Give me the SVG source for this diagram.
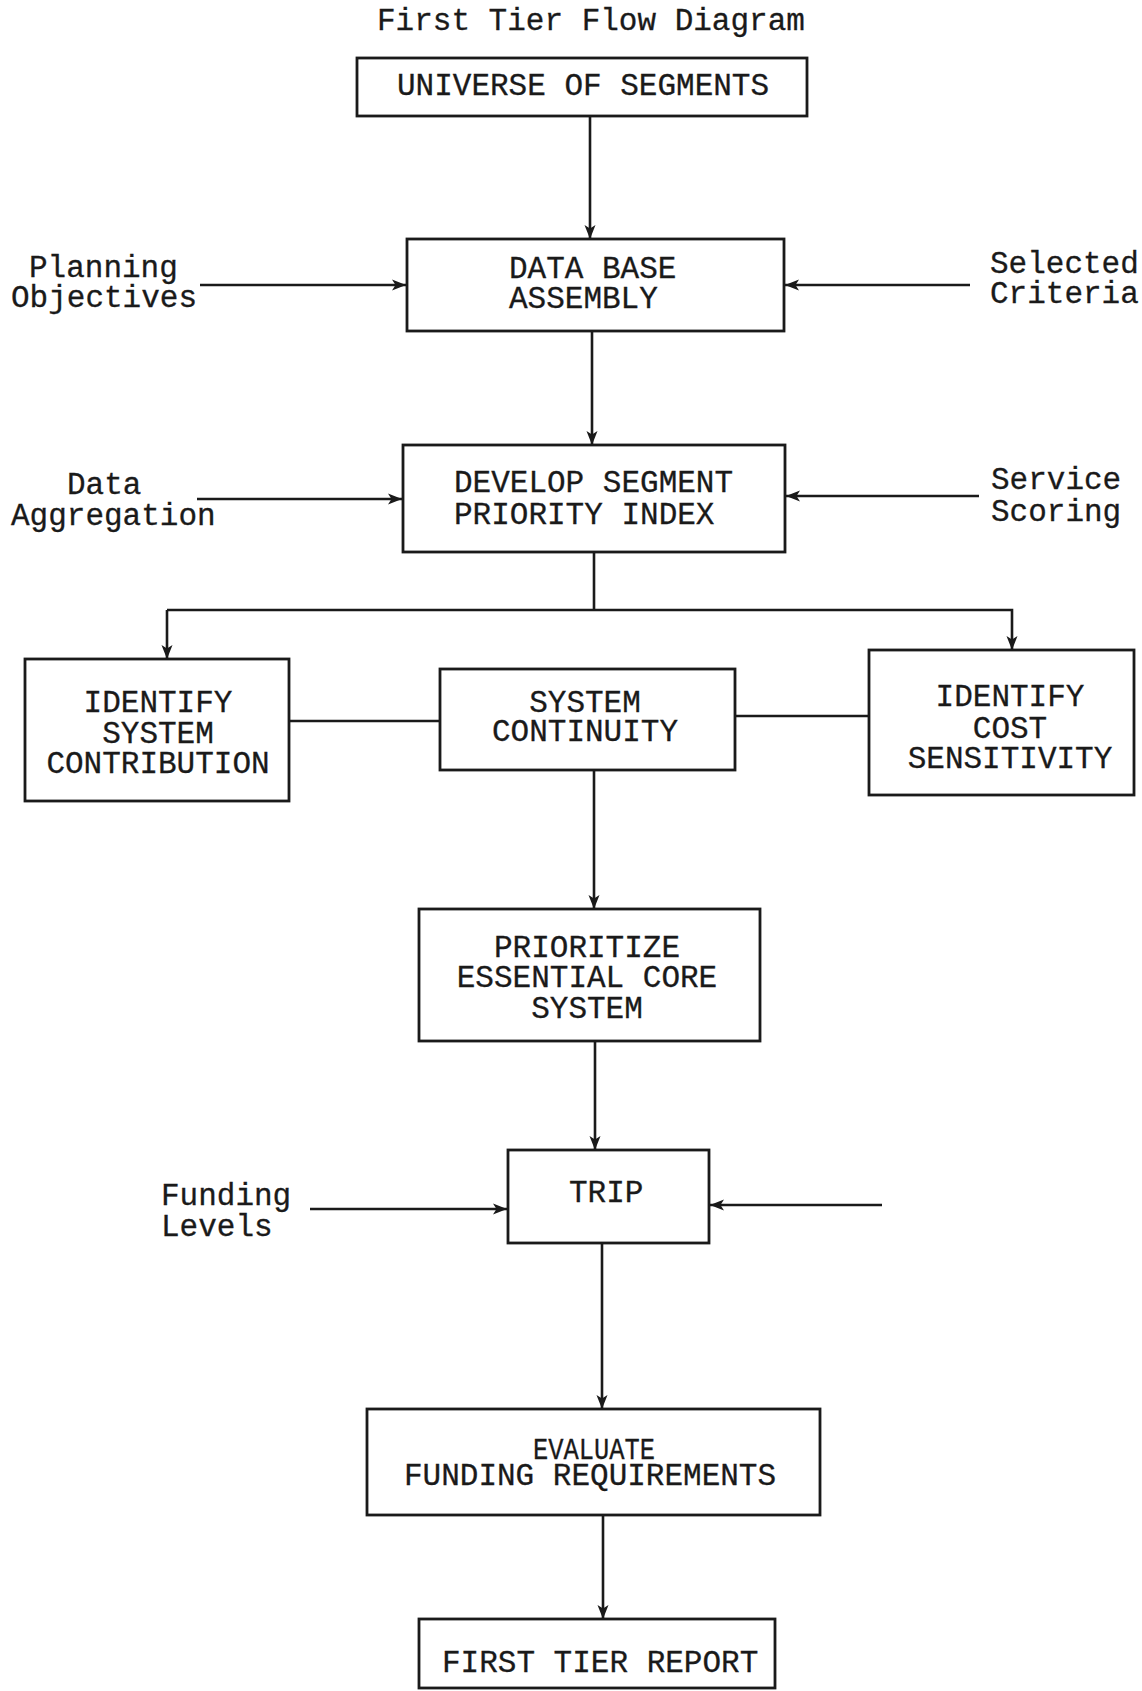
<svg xmlns="http://www.w3.org/2000/svg" width="1142" height="1691" viewBox="0 0 1142 1691">
<defs>
<style>
.box{fill:#fff;stroke:#1a1a1a;stroke-width:2.8}
.ln{fill:none;stroke:#1a1a1a;stroke-width:2.6}
.t{font-family:"Liberation Mono","DejaVu Sans Mono",monospace;font-size:31px;fill:#1a1a1a;stroke:#1a1a1a;stroke-width:0.3}
.c{text-anchor:middle}
</style>
<marker id="ah" viewBox="0 0 14 12" refX="14" refY="6" markerWidth="14" markerHeight="12" markerUnits="userSpaceOnUse" orient="auto">
<path d="M0,0.5 L14,6 L0,11.5 L3.5,6 Z" fill="#1a1a1a"/>
</marker>
</defs>
<rect width="1142" height="1691" fill="#fff"/>
<text class="t" x="377" y="30">First Tier Flow Diagram</text>
<g id="connectors">
<line class="ln" x1="590" y1="116" x2="590" y2="239" marker-end="url(#ah)"/>
<line class="ln" x1="200" y1="285" x2="406" y2="285" marker-end="url(#ah)"/>
<line class="ln" x1="970" y1="285" x2="785" y2="285" marker-end="url(#ah)"/>
<line class="ln" x1="592" y1="331" x2="592" y2="445" marker-end="url(#ah)"/>
<line class="ln" x1="197" y1="499" x2="402" y2="499" marker-end="url(#ah)"/>
<line class="ln" x1="979" y1="496" x2="786" y2="496" marker-end="url(#ah)"/>
<polyline class="ln" points="594,552 594,610"/>
<polyline class="ln" points="167,610 1012,610 1012,650" marker-end="url(#ah)"/>
<line class="ln" x1="167" y1="610" x2="167" y2="659" marker-end="url(#ah)"/>
<line class="ln" x1="289" y1="721" x2="440" y2="721"/>
<line class="ln" x1="735" y1="716" x2="869" y2="716"/>
<line class="ln" x1="594" y1="770" x2="594" y2="909" marker-end="url(#ah)"/>
<line class="ln" x1="595" y1="1041" x2="595" y2="1150" marker-end="url(#ah)"/>
<line class="ln" x1="310" y1="1209" x2="507" y2="1209" marker-end="url(#ah)"/>
<line class="ln" x1="882" y1="1205" x2="710" y2="1205" marker-end="url(#ah)"/>
<line class="ln" x1="602" y1="1243" x2="602" y2="1409" marker-end="url(#ah)"/>
<line class="ln" x1="603" y1="1515" x2="603" y2="1619" marker-end="url(#ah)"/>
</g>
<g id="universe">
<rect class="box" x="357" y="58" width="450" height="58"/>
<text class="t" x="397" y="95">UNIVERSE OF SEGMENTS</text>
</g>
<g id="database">
<rect class="box" x="407" y="239" width="377" height="92"/>
<text class="t" x="509" y="278">DATA BASE</text>
<text class="t" x="509" y="308">ASSEMBLY</text>
</g>
<g id="planning">
<text class="t" x="29" y="277">Planning</text>
<text class="t" x="11" y="307">Objectives</text>
</g>
<g id="criteria">
<text class="t" x="990" y="273">Selected</text>
<text class="t" x="990" y="303">Criteria</text>
</g>
<g id="develop">
<rect class="box" x="403" y="445" width="382" height="107"/>
<text class="t" x="454" y="492">DEVELOP SEGMENT</text>
<text class="t" x="454" y="524">PRIORITY INDEX</text>
</g>
<g id="aggregation">
<text class="t" x="67" y="494">Data</text>
<text class="t" x="11" y="525">Aggregation</text>
</g>
<g id="scoring">
<text class="t" x="991" y="489">Service</text>
<text class="t" x="991" y="521">Scoring</text>
</g>
<g id="contribution">
<rect class="box" x="25" y="659" width="264" height="142"/>
<text class="t c" x="158" y="712">IDENTIFY</text>
<text class="t c" x="158" y="743">SYSTEM</text>
<text class="t c" x="158" y="773">CONTRIBUTION</text>
</g>
<g id="continuity">
<rect class="box" x="440" y="669" width="295" height="101"/>
<text class="t c" x="585" y="712">SYSTEM</text>
<text class="t c" x="585" y="741">CONTINUITY</text>
</g>
<g id="cost">
<rect class="box" x="869" y="650" width="265" height="145"/>
<text class="t c" x="1010" y="706">IDENTIFY</text>
<text class="t c" x="1010" y="738">COST</text>
<text class="t c" x="1010" y="768">SENSITIVITY</text>
</g>
<g id="prioritize">
<rect class="box" x="419" y="909" width="341" height="132"/>
<text class="t c" x="587" y="957">PRIORITIZE</text>
<text class="t c" x="587" y="987">ESSENTIAL CORE</text>
<text class="t c" x="587" y="1018">SYSTEM</text>
</g>
<g id="trip">
<rect class="box" x="508" y="1150" width="201" height="93"/>
<text class="t" x="569" y="1202">TRIP</text>
</g>
<g id="funding">
<text class="t" x="161" y="1205">Funding</text>
<text class="t" x="161" y="1236">Levels</text>
</g>
<g id="evaluate">
<rect class="box" x="367" y="1409" width="453" height="106"/>
<text class="t" x="533" y="1459" style="font-size:29px" textLength="122" lengthAdjust="spacingAndGlyphs">EVALUATE</text>
<text class="t" x="404" y="1485">FUNDING REQUIREMENTS</text>
</g>
<g id="report">
<rect class="box" x="419" y="1619" width="356" height="69"/>
<text class="t" x="442" y="1672">FIRST TIER REPORT</text>
</g>
</svg>
